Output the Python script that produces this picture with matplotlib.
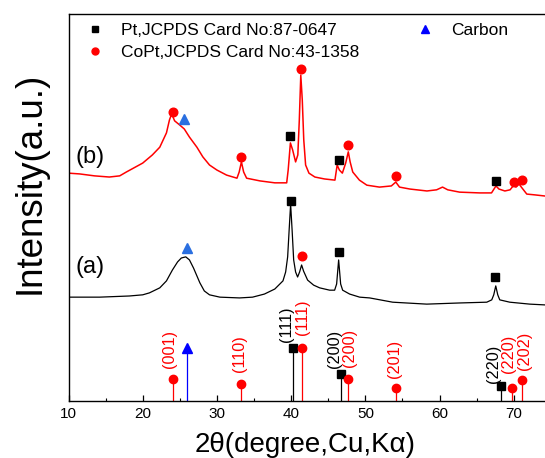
import matplotlib
matplotlib.use('Agg')
import matplotlib.pyplot as plt
from matplotlib.lines import Line2D
from matplotlib.ticker import MultipleLocator

plt.rcParams['font.family'] = ['Liberation Sans', 'DejaVu Sans']

# ---------------- data ----------------
# sample (b) - red curve
b_x = [10.0, 11.5, 13.5, 15.5, 16.9, 17.8, 20.0, 21.3, 22.3, 23.2, 23.6, 23.9, 24.3, 25.0,
       25.6, 26.3, 27.3, 28.1, 29.0, 30.0, 31.3, 32.7, 33.0, 33.3, 33.6, 34.0, 35.8, 37.8,
       39.4, 39.6, 39.9, 40.2, 40.6, 40.9, 41.1, 41.3, 41.5, 41.7, 41.95, 42.4, 43.2, 44.5,
       45.9, 46.2, 46.5, 46.9, 47.35, 47.7, 47.95, 48.3, 49.2, 50.2, 51.9, 53.5, 54.1, 54.6,
       56.0, 58.3, 59.6, 60.4, 61.1, 62.7, 65.4, 67.0, 67.6, 68.0, 68.8, 69.5, 70.0, 70.3,
       70.7, 71.1, 71.75, 72.8, 74.2, 76.0]
b_y = [58.8, 58.6, 58.1, 57.8, 58.1, 59.1, 61.4, 63.5, 65.5, 69.2, 72.5, 74.1, 72.3, 71.2,
       70.2, 68.1, 65.5, 63.0, 60.9, 59.6, 58.3, 57.5, 59.1, 61.7, 59.1, 57.5, 56.8, 56.3,
       56.3, 59.6, 66.6, 64.8, 61.7, 63.5, 72.5, 84.1, 77.7, 67.4, 60.9, 58.8, 57.8, 57.3,
       57.0, 60.9, 59.6, 58.8, 61.4, 64.3, 61.7, 59.1, 57.0, 55.7, 55.2, 55.5, 56.5, 55.2,
       54.7, 54.2, 54.5, 55.2, 54.5, 53.9, 53.7, 53.7, 55.5, 54.7, 54.2, 54.5, 55.7, 55.2,
       56.0, 55.0, 53.4, 53.2, 52.9, 52.7]

# sample (a) - black curve
a_x = [10.0, 14.2, 18.2, 20.0, 20.9, 22.3, 23.2, 24.0, 24.7, 25.2, 25.8, 26.3, 26.85, 27.7,
       28.3, 29.0, 30.4, 33.05, 34.8, 36.4, 37.8, 38.9, 39.26, 39.53, 39.73, 39.93, 40.13,
       40.34, 40.6, 40.87, 41.14, 41.41, 41.68, 42.22, 43.03, 43.84, 45.19, 45.86, 46.13,
       46.4, 46.67, 46.94, 47.88, 49.23, 50.58, 53.68, 58.27, 62.72, 66.36, 67.03, 67.3,
       67.57, 67.84, 68.11, 69.46, 72.15, 74.18, 76.0]
a_y = [26.8, 26.8, 27.1, 27.4, 27.9, 29.2, 31.0, 33.8, 35.9, 36.9, 37.2, 36.4, 34.3, 30.5,
       28.4, 27.4, 26.8, 26.6, 26.8, 27.6, 28.9, 31.0, 33.3, 37.2, 44.1, 50.8, 44.1,
       36.4, 33.3, 32.0, 33.3, 35.1, 33.5, 31.2, 29.9, 29.2, 28.6, 28.6, 30.2,
       36.4, 30.2, 28.6, 27.6, 26.8, 26.6, 25.5, 25.0, 25.3, 25.5, 26.1, 27.4,
       29.7, 27.4, 26.1, 25.5, 25.0, 24.8, 24.7]

# phase markers on curves
b_pt_x, b_pt_y = [39.9, 46.4, 67.57], [68.4, 62.2, 56.8]
b_copt_x, b_copt_y = [24.06, 33.3, 41.37, 47.66, 54.09, 70.0, 71.08], [74.6, 63.0, 85.6, 66.1, 58.1, 56.5, 57.0]
b_c_x, b_c_y = [25.5], [72.8]
a_pt_x, a_pt_y = [39.93, 46.4, 67.43], [51.6, 38.5, 32.0]
a_copt_x, a_copt_y = [41.41], [37.4]
a_c_x, a_c_y = [25.9], [39.4]

# reference stick patterns
pt_ref_x = [40.24, 46.77, 68.34]
pt_ref_y = [13.7, 7.0, 3.9]
pt_ref_hkl = ['(111)', '(200)', '(220)']
copt_ref_x = [24.06, 33.28, 41.45, 47.66, 54.09, 69.77, 71.04]
copt_ref_y = [5.7, 4.4, 13.7, 5.7, 3.4, 3.4, 5.4]
copt_ref_hkl = ['(001)', '(110)', '(111)', '(200)', '(201)', '(220)', '(202)']
c_ref_x = [25.95]
c_ref_y = [13.7]

x_ticks = [10, 20, 30, 40, 50, 60, 70]

# label offsets (points) for hkl labels
pt_off = [(-4.8, 4.3), (-4.8, 4.3), (-6.0, 2.2)]
copt_off = [(-2.4, 7.9), (-1.2, 8.6), (0.7, 9.4), (1.2, 8.6), (-0.7, 7.2), (-2.9, 10.8), (2.4, 7.2)]

RED = '#ff0000'
BLUE_PT = '#2a6fe0'
BLUE = '#0000ff'

# ---------------- figure ----------------
fig = plt.figure(figsize=(5.45, 4.58), dpi=100)
ax = fig.add_axes([68.5 / 545, 57 / 458, 519.5 / 545, 387.5 / 458])
ax.set_xlim(10, 80)
ax.set_ylim(0, 100)

ax.plot(b_x, b_y, color=RED, lw=1.1)
ax.plot(a_x, a_y, color='black', lw=0.9)

ms_sq, ms_ci, ms_tr = 5.8, 6.2, 6.5
for xs, ys in [(b_pt_x, b_pt_y), (a_pt_x, a_pt_y)]:
    ax.plot(xs, ys, ls='none', marker='s', color='black', ms=ms_sq)
for xs, ys in [(b_copt_x, b_copt_y), (a_copt_x, a_copt_y)]:
    ax.plot(xs, ys, ls='none', marker='o', color=RED, ms=ms_ci)
for xs, ys in [(b_c_x, b_c_y), (a_c_x, a_c_y)]:
    ax.plot(xs, ys, ls='none', marker='^', color=BLUE_PT, ms=ms_tr)

# stick patterns
ax.vlines(pt_ref_x, 0, pt_ref_y, colors='black', lw=0.9)
ax.vlines(copt_ref_x, 0, copt_ref_y, colors=RED, lw=0.9)
ax.vlines(c_ref_x, 0, c_ref_y, colors=BLUE, lw=0.9)
ax.plot(pt_ref_x, pt_ref_y, ls='none', marker='s', color='black', ms=5.2)
ax.plot(copt_ref_x, copt_ref_y, ls='none', marker='o', color=RED, ms=6.0)
ax.plot(c_ref_x, c_ref_y, ls='none', marker='^', color=BLUE, ms=7.0)

for x, y, t, off in zip(pt_ref_x, pt_ref_y, pt_ref_hkl, pt_off):
    ax.annotate(t, (x, y), xytext=off, textcoords='offset points', rotation=90,
                ha='center', va='bottom', fontsize=11.7, color='black')
for x, y, t, off in zip(copt_ref_x, copt_ref_y, copt_ref_hkl, copt_off):
    ax.annotate(t, (x, y), xytext=off, textcoords='offset points', rotation=90,
                ha='center', va='bottom', fontsize=11.7, color=RED)

ax.text(12.97, 63.0, '(b)', fontsize=17, ha='center', va='center')
ax.text(12.97, 34.6, '(a)', fontsize=17, ha='center', va='center')

# axes styling
ax.set_yticks([])
ax.set_xticks(x_ticks)
ax.xaxis.set_minor_locator(MultipleLocator(5))
ax.tick_params(axis='x', which='major', direction='in', length=4.3, width=0.9, labelsize=11, pad=4)
ax.tick_params(axis='x', which='minor', direction='in', length=2.2, width=0.8)
for s in ax.spines.values():
    s.set_linewidth(1.0)
ax.spines['right'].set_visible(False)

fig.text(305.5 / 545, 1 - 444.5 / 458, '2θ(degree,Cu,Kα)', fontsize=20, ha='center', va='center')
fig.text(30 / 545, 1 - 182.5 / 458, 'Intensity(a.u.)', fontsize=26.5, rotation=90,
         ha='center', va='center')

# legend
handles = [Line2D([], [], ls='none', marker='s', color='black', ms=4.0),
           Line2D([], [], ls='none', marker='o', color=RED, ms=5.0),
           Line2D([], [], ls='none', marker='^', color=BLUE, ms=5.5)]
labels = ['Pt,JCPDS Card No:87-0647', 'CoPt,JCPDS Card No:43-1358', 'Carbon']
fig.legend(handles, labels, ncol=2, loc='upper left',
           bbox_to_anchor=(86.3 / 545, 1 - 22.5 / 458), bbox_transform=fig.transFigure,
           frameon=False, fontsize=12.5, handlelength=1.0, handletextpad=1.0,
           columnspacing=3.3, labelspacing=0.41, borderpad=0, borderaxespad=0)

fig.savefig('out.png', dpi=100)
